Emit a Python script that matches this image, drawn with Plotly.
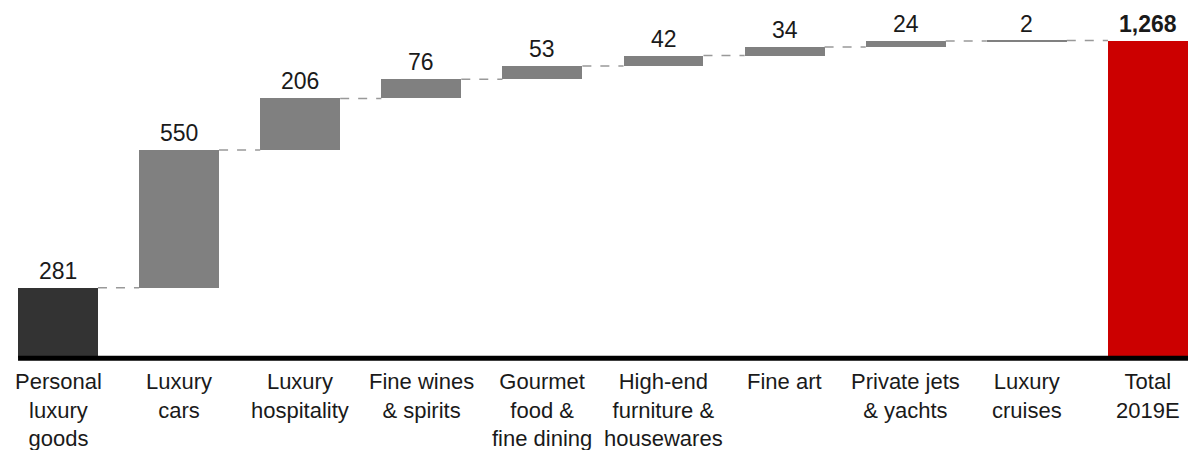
import plotly.graph_objects as go

categories = ["Personal<br>luxury<br>goods", "Luxury<br>cars", "Luxury<br>hospitality",
              "Fine wines<br>& spirits", "Gourmet<br>food &<br>fine dining",
              "High-end<br>furniture &<br>housewares", "Fine art",
              "Private jets<br>& yachts", "Luxury<br>cruises", "Total<br>2019E"]
values = [281, 550, 206, 76, 53, 42, 34, 24, 2, 1268]
value_labels = ["281", "550", "206", "76", "53", "42", "34", "24", "2", "<b>1,268</b>"]
measures = ["absolute", "relative", "relative", "relative", "relative",
            "relative", "relative", "relative", "relative", "total"]

FONT = "Liberation Sans, Arial, sans-serif"
W = 0.66

# compute bases
bases, tops = [], []
run = 0
for v, m in zip(values, measures):
    if m == "absolute":
        b = 0; run = v
    elif m == "relative":
        b = run; run = run + v
    else:
        b = 0; run = v
    bases.append(b)
    tops.append(run)
heights = [t - b for t, b in zip(tops, bases)]

colors = [{"absolute": "#333333", "relative": "#808080", "total": "#cc0000"}[m] for m in measures]

x = list(range(len(categories)))
fig = go.Figure()
fig.add_trace(go.Bar(x=x, y=heights, base=bases, width=W,
                     marker=dict(color=colors, line=dict(width=0)),
                     hoverinfo="skip", showlegend=False))

# connectors
for i in range(len(x) - 1):
    fig.add_trace(go.Scatter(x=[x[i] + W / 2, x[i + 1] - W / 2], y=[tops[i], tops[i]],
                             mode="lines", line=dict(color="#999999", width=1.5, dash="9px,9px"),
                             hoverinfo="skip", showlegend=False))

# value labels
for i in range(len(x)):
    fig.add_annotation(x=x[i], y=tops[i], text=value_labels[i], showarrow=False,
                       yanchor="bottom", yshift=2,
                       font=dict(family=FONT, size=23, color="#1a1a1a"))

# category labels
for i in range(len(x)):
    fig.add_annotation(x=x[i], y=0, yref="y", text=categories[i], showarrow=False,
                       yanchor="top", yshift=-9,
                       font=dict(family=FONT, size=22, color="#1a1a1a"))

# baseline axis line
fig.add_shape(type="line", x0=-W / 2, x1=9.5, y0=-1, y1=-1, xref="x", yref="y",
              line=dict(color="#000000", width=5), layer="above")

fig.update_layout(
    width=1188, height=450,
    margin=dict(l=0, r=0, t=0, b=89),
    plot_bgcolor="white", paper_bgcolor="white",
    bargap=0,
    xaxis=dict(range=[-0.479, 9.331], showgrid=False, zeroline=False,
               showticklabels=False, showline=False, fixedrange=True),
    yaxis=dict(range=[-12, 1430], showgrid=False, zeroline=False,
               showticklabels=False, showline=False, fixedrange=True),
)

fig.write_html("out.html")
